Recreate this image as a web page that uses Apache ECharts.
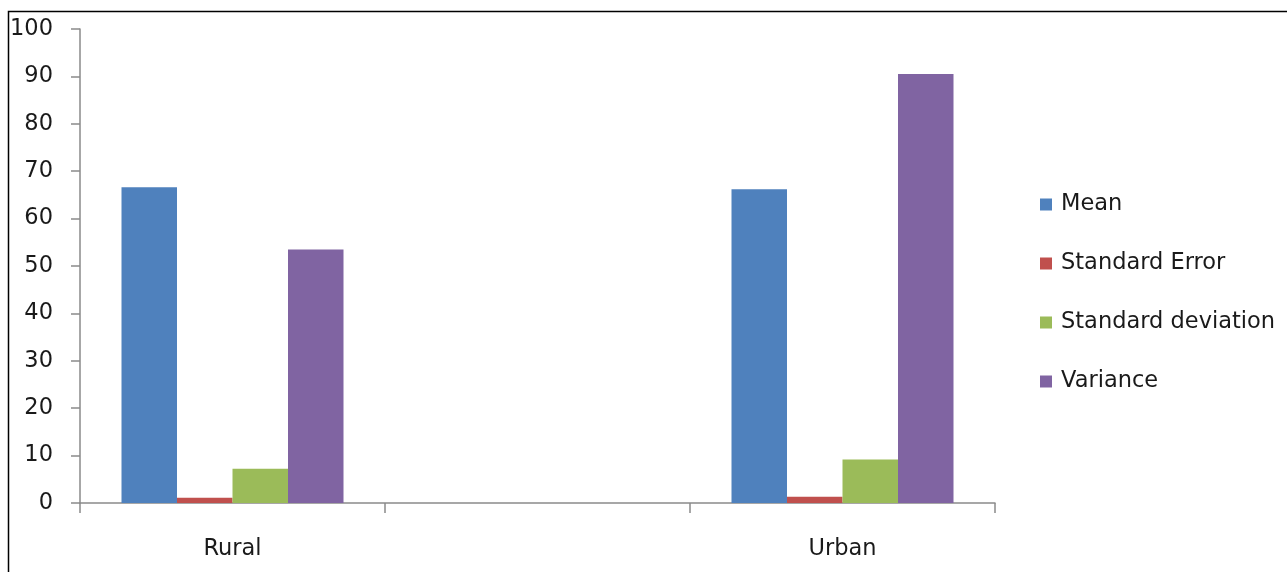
<!DOCTYPE html>
<html>
<head>
<meta charset="utf-8">
<style>
  html, body { margin: 0; padding: 0; background: #ffffff; }
  #chart { width: 1287px; height: 572px; }
</style>
<script src="https://cdn.jsdelivr.net/npm/echarts@6/dist/echarts.min.js"></script>
</head>
<body>
<div id="chart"></div>
<script>
// Descriptive statistics by area (the middle slot is an empty category)
const categories = ['Rural', '', 'Urban'];
const meanValues = [66.6, null, 66.2];
const stdErrorValues = [1.1, null, 1.3];
const stdDevValues = [7.2, null, 9.2];
const varianceValues = [53.5, null, 90.5];
const yTicks = [0, 10, 20, 30, 40, 50, 60, 70, 80, 90, 100];

const seriesDefs = [
  { name: 'Mean', data: meanValues, color: '#4F81BD' },
  { name: 'Standard Error', data: stdErrorValues, color: '#C0504D' },
  { name: 'Standard deviation', data: stdDevValues, color: '#9BBB59' },
  { name: 'Variance', data: varianceValues, color: '#8064A2' }
];

const FONT = 'DejaVu Sans';
const FONT_SIZE = 22.5;
const TEXT_COLOR = '#1a1a1a';
const AXIS_GREY = '#8a8a8a';

const chart = echarts.init(document.getElementById('chart'), null, { renderer: 'canvas' });

chart.setOption({
  animation: false,
  backgroundColor: '#ffffff',
  textStyle: { fontFamily: FONT },
  graphic: [{
    type: 'rect',
    left: 6, top: 9,
    shape: { x: 0, y: 0, width: 1300, height: 600 },
    style: { fill: 'none', stroke: '#000000', lineWidth: 1.5 },
    silent: true
  }],
  grid: { left: 80, right: 292, top: 29, bottom: 69, containLabel: false },
  legend: {
    orient: 'vertical',
    left: 1035,
    top: 188,
    itemWidth: 12,
    itemHeight: 12,
    itemGap: 36,
    icon: 'rect',
    textStyle: { fontFamily: FONT, fontSize: FONT_SIZE, color: TEXT_COLOR, lineHeight: 23, padding: [0, 0, 0, 4] },
    data: seriesDefs.map(s => s.name)
  },
  xAxis: {
    type: 'category',
    data: categories,
    axisLine: { show: true, lineStyle: { color: AXIS_GREY, width: 1.5 } },
    axisTick: { show: true, alignWithLabel: false, length: 10, lineStyle: { color: AXIS_GREY, width: 1.5 } },
    axisLabel: { margin: 35, fontFamily: FONT, fontSize: FONT_SIZE, color: TEXT_COLOR },
    splitLine: { show: false }
  },
  yAxis: {
    type: 'value',
    min: 0,
    max: 100,
    interval: 10,
    axisLine: { show: true, lineStyle: { color: AXIS_GREY, width: 1.5 } },
    axisTick: { show: true, length: 9, lineStyle: { color: AXIS_GREY, width: 1.5 } },
    axisLabel: {
      margin: 27,
      fontFamily: FONT,
      fontSize: FONT_SIZE,
      color: TEXT_COLOR,
      formatter: v => (yTicks.includes(v) ? String(v) : '')
    },
    splitLine: { show: false }
  },
  series: seriesDefs.map(s => ({
    name: s.name,
    type: 'bar',
    data: s.data,
    barWidth: 55.5,
    barGap: '0%',
    itemStyle: { color: s.color },
    emphasis: { disabled: true }
  }))
});
</script>
</body>
</html>
